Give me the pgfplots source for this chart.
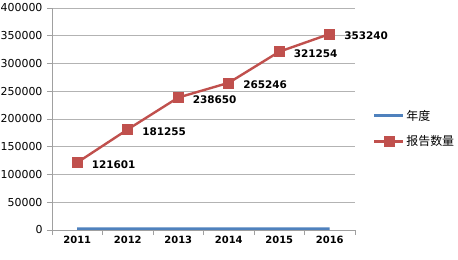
\documentclass[border=0pt]{standalone}
\usepackage{fontspec}
\setmainfont{DejaVu Sans}
\newfontfamily\cjk{Noto Sans CJK SC}
\usepackage{pgfplots}
\pgfplotsset{compat=1.18}
\definecolor{xlblue}{HTML}{4F81BD}
\definecolor{xlred}{HTML}{C0504D}
\definecolor{axgray}{HTML}{A0A0A0}
\begin{document}
\begin{tikzpicture}
\useasboundingbox (0bp,0bp) rectangle (458bp,260bp);
\begin{axis}[
  at={(52bp,30bp)}, anchor=south west,
  scale only axis, width=303bp, height=222bp,
  xmin=-0.5, xmax=5.5, ymin=0, ymax=400000,
  xtick={-0.5,0.5,...,5.5}, xticklabels={},
  extra x ticks={0,1,2,3,4,5},
  extra x tick labels={2011,2012,2013,2014,2015,2016},
  extra x tick style={major tick length=0pt, grid=none},
  ytick={0,50000,...,400000},
  scaled y ticks=false,
  /pgf/number format/assume math mode=true,
  y tick label style={/pgf/number format/fixed, /pgf/number format/1000 sep={}, font=\fontsize{11}{13}\selectfont, xshift=-1bp},
  x tick label style={font=\bfseries\fontsize{10}{12}\selectfont, yshift=-3bp},
  tick align=outside, major tick length=5bp,
  tick style={draw=axgray, line width=0.8bp},
  ymajorgrids, grid style={draw=axgray!80, line width=0.8bp},
  axis x line*=bottom, axis y line*=left,
  axis line style={draw=axgray, line width=0.8bp, -},
  legend style={at={(1.059,0.457)}, anchor=west, draw=none, fill=none, inner sep=0pt,
     font=\cjk\fontsize{12}{14}\selectfont, row sep=11bp,
     nodes={inner sep=1.5bp}},
  legend cell align=left,
  legend image code/.code={\draw[mark repeat=2,mark phase=2,#1] plot coordinates {(0bp,0bp) (14.5bp,0bp) (29bp,0bp)};},
]
\addplot[xlblue, line width=2.8bp, mark=none] coordinates {
 (0,2011) (1,2012) (2,2013) (3,2014) (4,2015) (5,2016)};
\addlegendentry{年度}
\addplot[xlred, line width=2.4bp, mark=square*, mark size=5bp,
  mark options={solid, fill=xlred, draw=xlred, line width=0.5bp},
  point meta=y,
  nodes near coords={\pgfmathprintnumber[fixed,precision=0,1000 sep={}]{\pgfplotspointmeta}},
  every node near coord/.append style={anchor=west, xshift=11bp, yshift=-2bp, text=black,
     font=\bfseries\fontsize{10.5}{12}\selectfont}] coordinates {
 (0,121601) (1,181255) (2,238650) (3,265246) (4,321254) (5,353240)};
\addlegendentry{报告数量}
\end{axis}
\end{tikzpicture}
\end{document}
